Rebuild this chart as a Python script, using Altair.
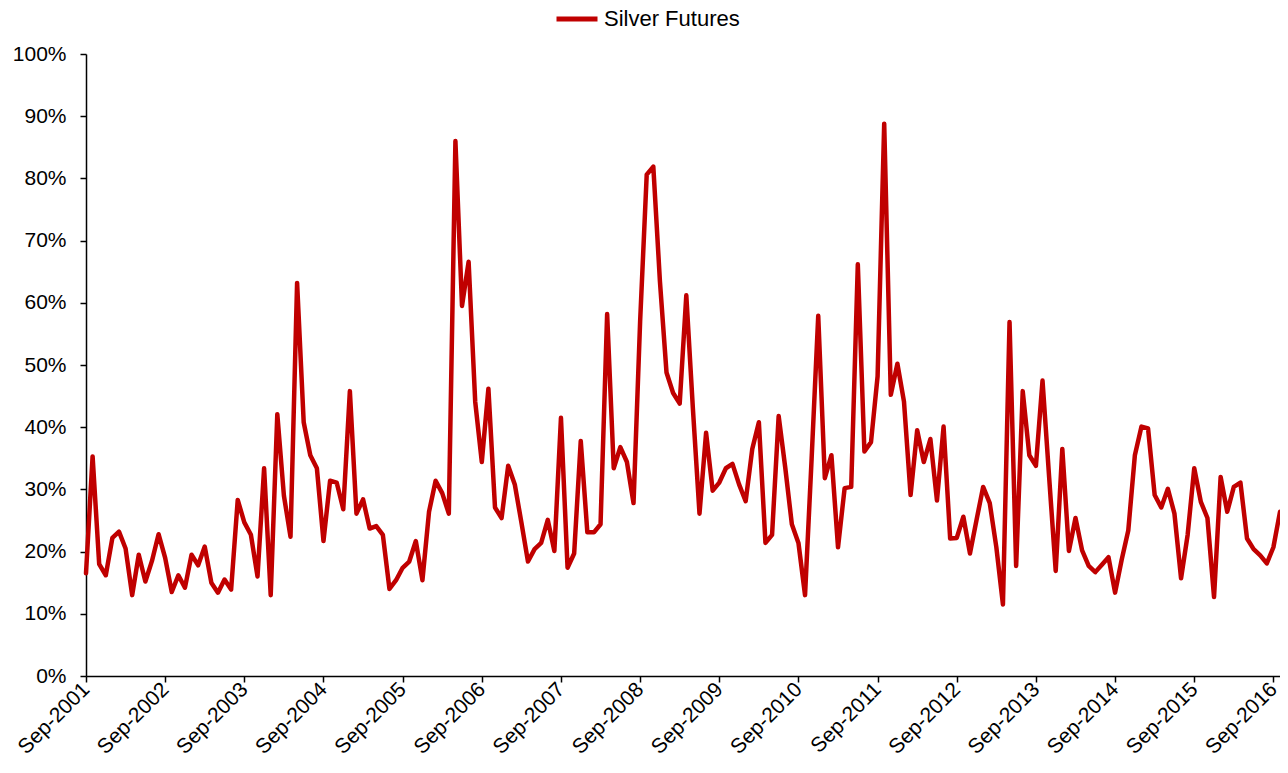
import json
import altair as alt
import pandas as pd

# Monthly implied volatility of silver futures (%), Sep-2001 .. Oct-2016
volatility = [
    16.5, 35.3, 18.0, 16.2, 22.2, 23.2, 20.5, 13.0, 19.5, 15.2, 18.5, 22.8,
    19.0, 13.5, 16.2, 14.2, 19.5, 17.8, 20.8, 15.0, 13.4, 15.5, 13.9, 28.3,
    24.7, 22.7, 16.0, 33.4, 13.0, 42.1, 29.0, 22.4, 63.2, 40.8, 35.5, 33.4,
    21.7, 31.4, 31.1, 26.8, 45.8, 26.1, 28.4, 23.7, 24.1, 22.7, 14.0, 15.4,
    17.4, 18.4, 21.7, 15.4, 26.4, 31.4, 29.4, 26.1, 86.0, 59.5, 66.6, 44.1,
    34.4, 46.2, 27.1, 25.4, 33.8, 30.8, 24.7, 18.4, 20.4, 21.4, 25.1, 20.1,
    41.5, 17.4, 19.7, 37.8, 23.1, 23.1, 24.4, 58.2, 33.4, 36.8, 34.4, 27.8,
    57.0, 80.6, 81.9, 63.5, 48.8, 45.5, 43.8, 61.2, 43.0, 26.1, 39.1, 29.8,
    31.1, 33.4, 34.1, 30.8, 28.1, 36.5, 40.8, 21.4, 22.7, 41.8, 33.5, 24.4,
    21.4, 13.0, 35.0, 57.9, 31.8, 35.5, 20.7, 30.2, 30.4, 66.2, 36.1, 37.6,
    48.2, 88.8, 45.2, 50.2, 44.1, 29.1, 39.5, 34.4, 38.1, 28.2, 40.1, 22.1,
    22.2, 25.6, 19.7, 25.1, 30.4, 27.8, 20.7, 11.5, 56.9, 17.7, 45.8, 35.5,
    33.8, 47.5, 32.0, 16.9, 36.5, 20.1, 25.4, 20.2, 17.7, 16.7, 17.9, 19.1,
    13.4, 18.7, 23.4, 35.5, 40.1, 39.8, 29.1, 27.1, 30.1, 26.1, 15.7, 22.7,
    33.4, 28.0, 25.4, 12.7, 32.0, 26.4, 30.4, 31.1, 22.1, 20.4, 19.4, 18.1,
    20.7, 26.4,
]

months = pd.date_range("2001-09-01", periods=len(volatility), freq="MS").strftime("%b-%Y").tolist()

tick_labels = [
    "Sep-2001", "Sep-2002", "Sep-2003", "Sep-2004", "Sep-2005", "Sep-2006",
    "Sep-2007", "Sep-2008", "Sep-2009", "Sep-2010", "Sep-2011", "Sep-2012",
    "Sep-2013", "Sep-2014", "Sep-2015", "Sep-2016",
]
tick_positions = [months.index(t) for t in tick_labels]

y_ticks = [0, 10, 20, 30, 40, 50, 60, 70, 80, 90, 100]

series_name = "Silver Futures"

df = pd.DataFrame({
    "idx": list(range(len(volatility))),
    "month": months,
    "vol": volatility,
    "series": series_name,
})

label_map = "{" + ",".join(f"{p}:{json.dumps(t)}" for p, t in zip(tick_positions, tick_labels)) + "}"

FONT = "Liberation Sans"

chart = (
    alt.Chart(df)
    .mark_line(strokeWidth=4.5, strokeCap="round", strokeJoin="round")
    .encode(
        x=alt.X(
            "idx:Q",
            scale=alt.Scale(domain=[0, len(volatility) - 1], nice=False, zero=False),
            axis=alt.Axis(
                title=None,
                values=tick_positions,
                labelExpr=f"{label_map}[datum.value]",
                labelAngle=-45,
                labelAlign="right",
                labelBaseline="middle",
                labelPadding=4,
                grid=False,
                tickSize=6,
                labelOverlap=False,
                labelBound=False,
                labelFlush=False,
            ),
        ),
        y=alt.Y(
            "vol:Q",
            scale=alt.Scale(domain=[0, 100], nice=False),
            axis=alt.Axis(
                title=None,
                values=y_ticks,
                labelExpr="datum.value + '%'",
                grid=False,
                tickSize=6,
                labelPadding=14,
            ),
        ),
        color=alt.Color(
            "series:N",
            scale=alt.Scale(domain=[series_name], range=["#C00000"]),
            legend=alt.Legend(
                title=None,
                orient="none",
                legendX=468,
                legendY=-58,
                symbolType="stroke",
                symbolSize=1681,
                symbolStrokeWidth=5,
                labelFontSize=22,
                labelFont=FONT,
                labelColor="black",
                labelOffset=4,
            ),
        ),
        order="idx:Q",
    )
    .properties(
        width=1194,
        height=622,
        autosize=alt.AutoSizeParams(type="none"),
        padding={"left": 78, "top": 46, "right": 0, "bottom": 89},
    )
    .configure_view(stroke=None)
    .configure_axis(
        domainColor="black",
        domainWidth=1.5,
        tickColor="black",
        tickWidth=1.5,
        labelFont=FONT,
        labelFontSize=21,
        labelColor="black",
    )
)

chart.save("out.html", embed_options={"renderer": "svg", "actions": False})
